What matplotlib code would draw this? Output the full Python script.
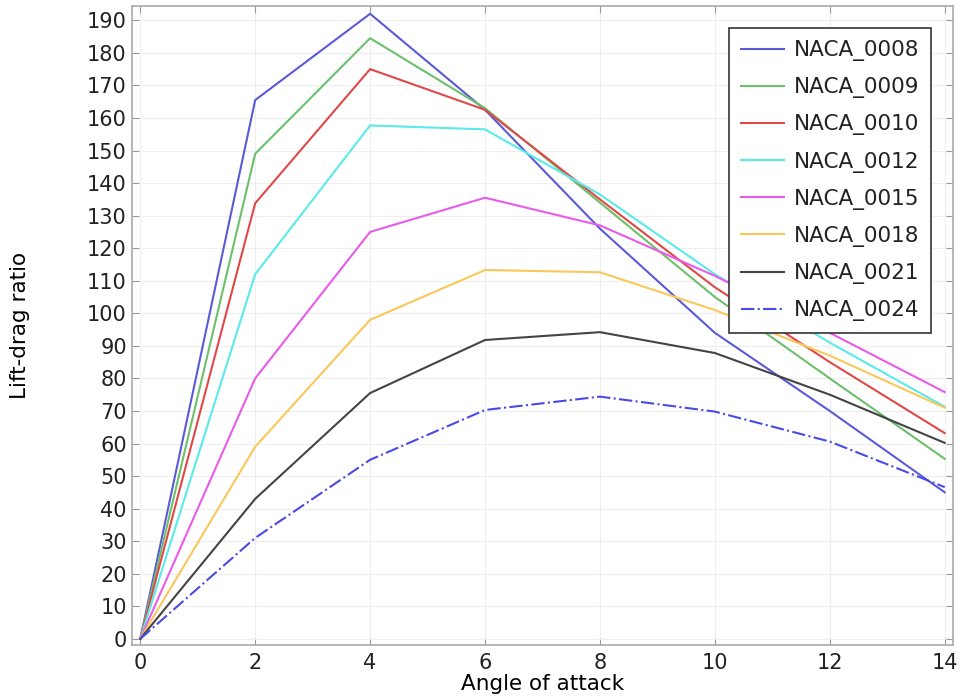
import matplotlib
matplotlib.use('Agg')
from matplotlib import pyplot as plt

angles = [0, 2, 4, 6, 8, 10, 12, 14]

naca_0008 = [0, 165.5, 192.0, 162.5, 126.0, 94.0, 70.0, 45.0]
naca_0009 = [0, 149.0, 184.5, 163.0, 134.0, 105.0, 80.0, 55.3]
naca_0010 = [0, 133.8, 175.0, 162.5, 135.0, 108.0, 85.0, 63.2]
naca_0012 = [0, 112.0, 157.7, 156.5, 136.5, 112.0, 91.0, 71.3]
naca_0015 = [0, 80.0, 125.0, 135.5, 127.0, 111.5, 94.0, 75.8]
naca_0018 = [0, 59.0, 98.0, 113.3, 112.6, 101.0, 87.0, 71.0]
naca_0021 = [0, 43.0, 75.5, 91.8, 94.2, 87.8, 75.0, 60.2]
naca_0024 = [0, 31.0, 55.0, 70.3, 74.4, 69.8, 60.6, 46.6]

series = [
    ('NACA_0008', naca_0008, '#5a5ad8', '-'),
    ('NACA_0009', naca_0009, '#6cc06c', '-'),
    ('NACA_0010', naca_0010, '#e04848', '-'),
    ('NACA_0012', naca_0012, '#5aeaea', '-'),
    ('NACA_0015', naca_0015, '#ea5aea', '-'),
    ('NACA_0018', naca_0018, '#fac85a', '-'),
    ('NACA_0021', naca_0021, '#444444', '-'),
    ('NACA_0024', naca_0024, '#4a4ae6', '-.'),
]


def plot_lift_drag(series):
    fig = plt.figure(figsize=(9.61, 7.0), dpi=100)
    ax = fig.add_axes([0.137, 0.079, 0.855, 0.912])
    for name, values, color, style in series:
        ax.plot(angles, values, color=color, linestyle=style,
                linewidth=1.5, label=name)

    ax.set_xlim(-0.15, 14.15)
    ax.set_ylim(-1.8, 194.3)
    ax.set_xticks(range(0, 15, 2))
    ax.set_yticks(range(0, 191, 10))
    ax.grid(True, color='#eeeeee', linewidth=0.8)
    ax.tick_params(direction='in', top=True, right=True, labelsize=15,
                   color='#999999', length=5, labelcolor='#222222')
    ax.tick_params(axis='x', pad=6)
    for spine in ax.spines.values():
        spine.set_color('#aaaaaa')
        spine.set_linewidth(1.2)

    ax.set_xlabel('Angle of attack', fontsize=15.5, labelpad=1)
    ax.set_ylabel('Lift-drag ratio', fontsize=15.5)
    ax.yaxis.set_label_coords(-0.124, 0.5)

    leg = ax.legend(loc='upper right', fontsize=15.5, labelspacing=0.75,
                    handlelength=2.0, handletextpad=0.45, fancybox=False,
                    framealpha=1, borderpad=0.55, borderaxespad=0,
                    bbox_to_anchor=(0.973, 0.9655))
    leg.get_frame().set_edgecolor('#333333')
    leg.get_frame().set_linewidth(1.2)
    for text in leg.get_texts():
        text.set_color('#222222')

    fig.savefig('out.png', dpi=100)


plot_lift_drag(series)
